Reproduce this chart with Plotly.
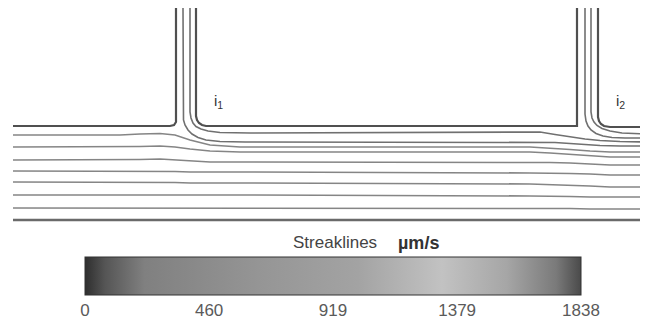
import plotly.graph_objects as go

# ---- data (positions along channel / inlets) ----
# channel walls
wall_a_x = [13, 170, 174, 176, 176]
wall_a_y = [126, 126, 125, 122, 8]
wall_b_x = [196, 196, 197, 199, 202, 206, 577, 577]
wall_b_y = [8, 116, 120, 123, 125, 126, 126, 8]
wall_c_x = [598, 598, 599, 601, 604, 610, 648]
wall_c_y = [8, 117, 121, 124, 126, 127, 127]
wall_bot_x = [13, 648]
wall_bot_y = [220, 220]

# channel streaklines entering from the left
chan_x = [13, 120, 140, 160, 175, 190, 210, 240, 530, 550, 570, 590, 610, 630, 648]
chan_y1 = [135, 135, 134, 133.5, 135, 140, 145, 147, 147, 148, 149.5, 151, 152, 152, 152]
chan_y2 = [147, 147, 146.5, 146, 147, 149, 151, 152, 152, 153, 154.5, 156, 157, 157, 157]
chan_y3 = [160, 160, 159.5, 159, 160, 161, 162, 162, 162, 162.5, 163, 164, 165, 165, 165]
chan_y4 = [171, 171, 171, 171, 171.5, 172, 172, 172, 173, 173, 173.5, 174, 175, 175, 175]
chan_y5 = [182, 182, 182, 182, 182.5, 183, 183, 183, 184, 184.5, 185, 186, 187, 187, 187]
chan_y6 = [195, 195, 195, 195, 195, 195, 195, 195, 196, 196, 196.5, 197, 197, 197, 197]
chan_y7 = [208, 208, 208, 208, 208, 208, 208, 208, 208, 208, 208.5, 209, 209, 209, 209]

# inlet 1 streaklines
in1a_x = [183, 183, 183.5, 185, 188, 192, 198, 206, 220, 245, 540, 555, 570, 585, 600, 620, 648]
in1a_y = [8, 114, 120, 125, 130, 134, 137.5, 140, 141.5, 142, 142, 142.5, 143.5, 144.5, 145.5, 146, 146]
in1b_x = [190, 190, 191, 193, 196, 201, 208, 220, 250, 540, 555, 570, 585, 600, 620, 648]
in1b_y = [8, 112, 118, 123, 126.5, 129, 131, 132.5, 133, 132, 134.5, 137, 139, 140.5, 141.5, 142]

# inlet 2 streaklines
in2a_x = [585, 585, 586, 588, 591, 596, 603, 612, 625, 648]
in2a_y = [8, 114, 121, 126, 130, 133.5, 136, 137.5, 138, 138]
in2b_x = [591, 591, 592, 594, 597, 602, 610, 622, 648]
in2b_y = [8, 112, 118, 122, 125.5, 128.5, 131, 133, 134]

# labels
label_text = ["i<sub>1</sub>", "i<sub>2</sub>"]
label_x = [218, 620]
label_y = [101, 101]

# colour bar
cbar_min = 0
cbar_max = 1838
cbar_ticks = [0, 460, 919, 1379, 1838]
cbar_title = "Streaklines"
cbar_unit = "<b>µm/s</b>"

gray_scale = [
    [0.0, "#2e2e2e"], [0.04, "#555555"], [0.12, "#808080"], [0.35, "#959595"],
    [0.55, "#a3a3a3"], [0.72, "#c2c2c2"], [0.85, "#a6a6a6"], [0.95, "#7a7a7a"],
    [1.0, "#4a4a4a"],
]

# page offset of the figure inside the browser window (body margin)
OFF = 8
W, H = 648 - OFF, 322 - OFF


def px(xp):
    return (xp - OFF) / W


def py(yp):
    return 1 - (yp - OFF) / H


fig = go.Figure()

line_col = "#858585"
wall_col = "#505050"

for xs, ys in [(wall_a_x, wall_a_y), (wall_b_x, wall_b_y), (wall_c_x, wall_c_y)]:
    fig.add_trace(go.Scatter(x=xs, y=ys, mode="lines",
                             line=dict(color=wall_col, width=2.2),
                             hoverinfo="skip", showlegend=False))
fig.add_trace(go.Scatter(x=wall_bot_x, y=wall_bot_y, mode="lines",
                         line=dict(color="#6a6a6a", width=2.6),
                         hoverinfo="skip", showlegend=False))

for ys in [chan_y1, chan_y2, chan_y3, chan_y4, chan_y5, chan_y6, chan_y7]:
    fig.add_trace(go.Scatter(x=chan_x, y=ys, mode="lines",
                             line=dict(color=line_col, width=1.6),
                             hoverinfo="skip", showlegend=False))

for xs, ys in [(in1a_x, in1a_y), (in1b_x, in1b_y), (in2a_x, in2a_y), (in2b_x, in2b_y)]:
    fig.add_trace(go.Scatter(x=xs, y=ys, mode="lines",
                             line=dict(color="#707070", width=1.6),
                             hoverinfo="skip", showlegend=False))

for t, lx, ly in zip(label_text, label_x, label_y):
    fig.add_annotation(x=lx, y=ly, text=t, showarrow=False,
                       font=dict(family="Liberation Sans, Arial", size=15, color="#333333"))

# colour bar carrier (point outside visible range)
fig.add_trace(go.Scatter(
    x=[-100], y=[-100], mode="markers", hoverinfo="skip", showlegend=False,
    marker=dict(color=[cbar_min], cmin=cbar_min, cmax=cbar_max, colorscale=gray_scale,
                showscale=True,
                colorbar=dict(orientation="h", x=px(333), xanchor="center",
                              y=py(286), yanchor="middle",
                              len=496 / W, lenmode="fraction",
                              thickness=38, thicknessmode="pixels",
                              outlinecolor="#333333", outlinewidth=1,
                              tickvals=cbar_ticks, ticktext=[str(v) for v in cbar_ticks],
                              ticks="", ticklen=0,
                              tickfont=dict(family="Liberation Sans, Arial", size=17, color="#5a5a5a"),
                              title=dict(text="", side="top"),
                              xpad=0, ypad=0))))

fig.add_annotation(xref="paper", yref="paper", x=px(335), y=py(243),
                   text=cbar_title, showarrow=False, xanchor="center", yanchor="middle",
                   font=dict(family="Liberation Sans, Arial", size=17, color="#444444"))
fig.add_annotation(xref="paper", yref="paper", x=px(418), y=py(243),
                   text=cbar_unit, showarrow=False, xanchor="center", yanchor="middle",
                   font=dict(family="Liberation Sans, Arial", size=18, color="#333333"))

fig.update_layout(
    width=W, height=H,
    margin=dict(l=0, r=0, t=0, b=0, autoexpand=False),
    paper_bgcolor="white", plot_bgcolor="white",
    xaxis=dict(range=[OFF, 648], visible=False, fixedrange=True),
    yaxis=dict(range=[322, OFF], visible=False, fixedrange=True),
)

fig.write_html("out.html")
